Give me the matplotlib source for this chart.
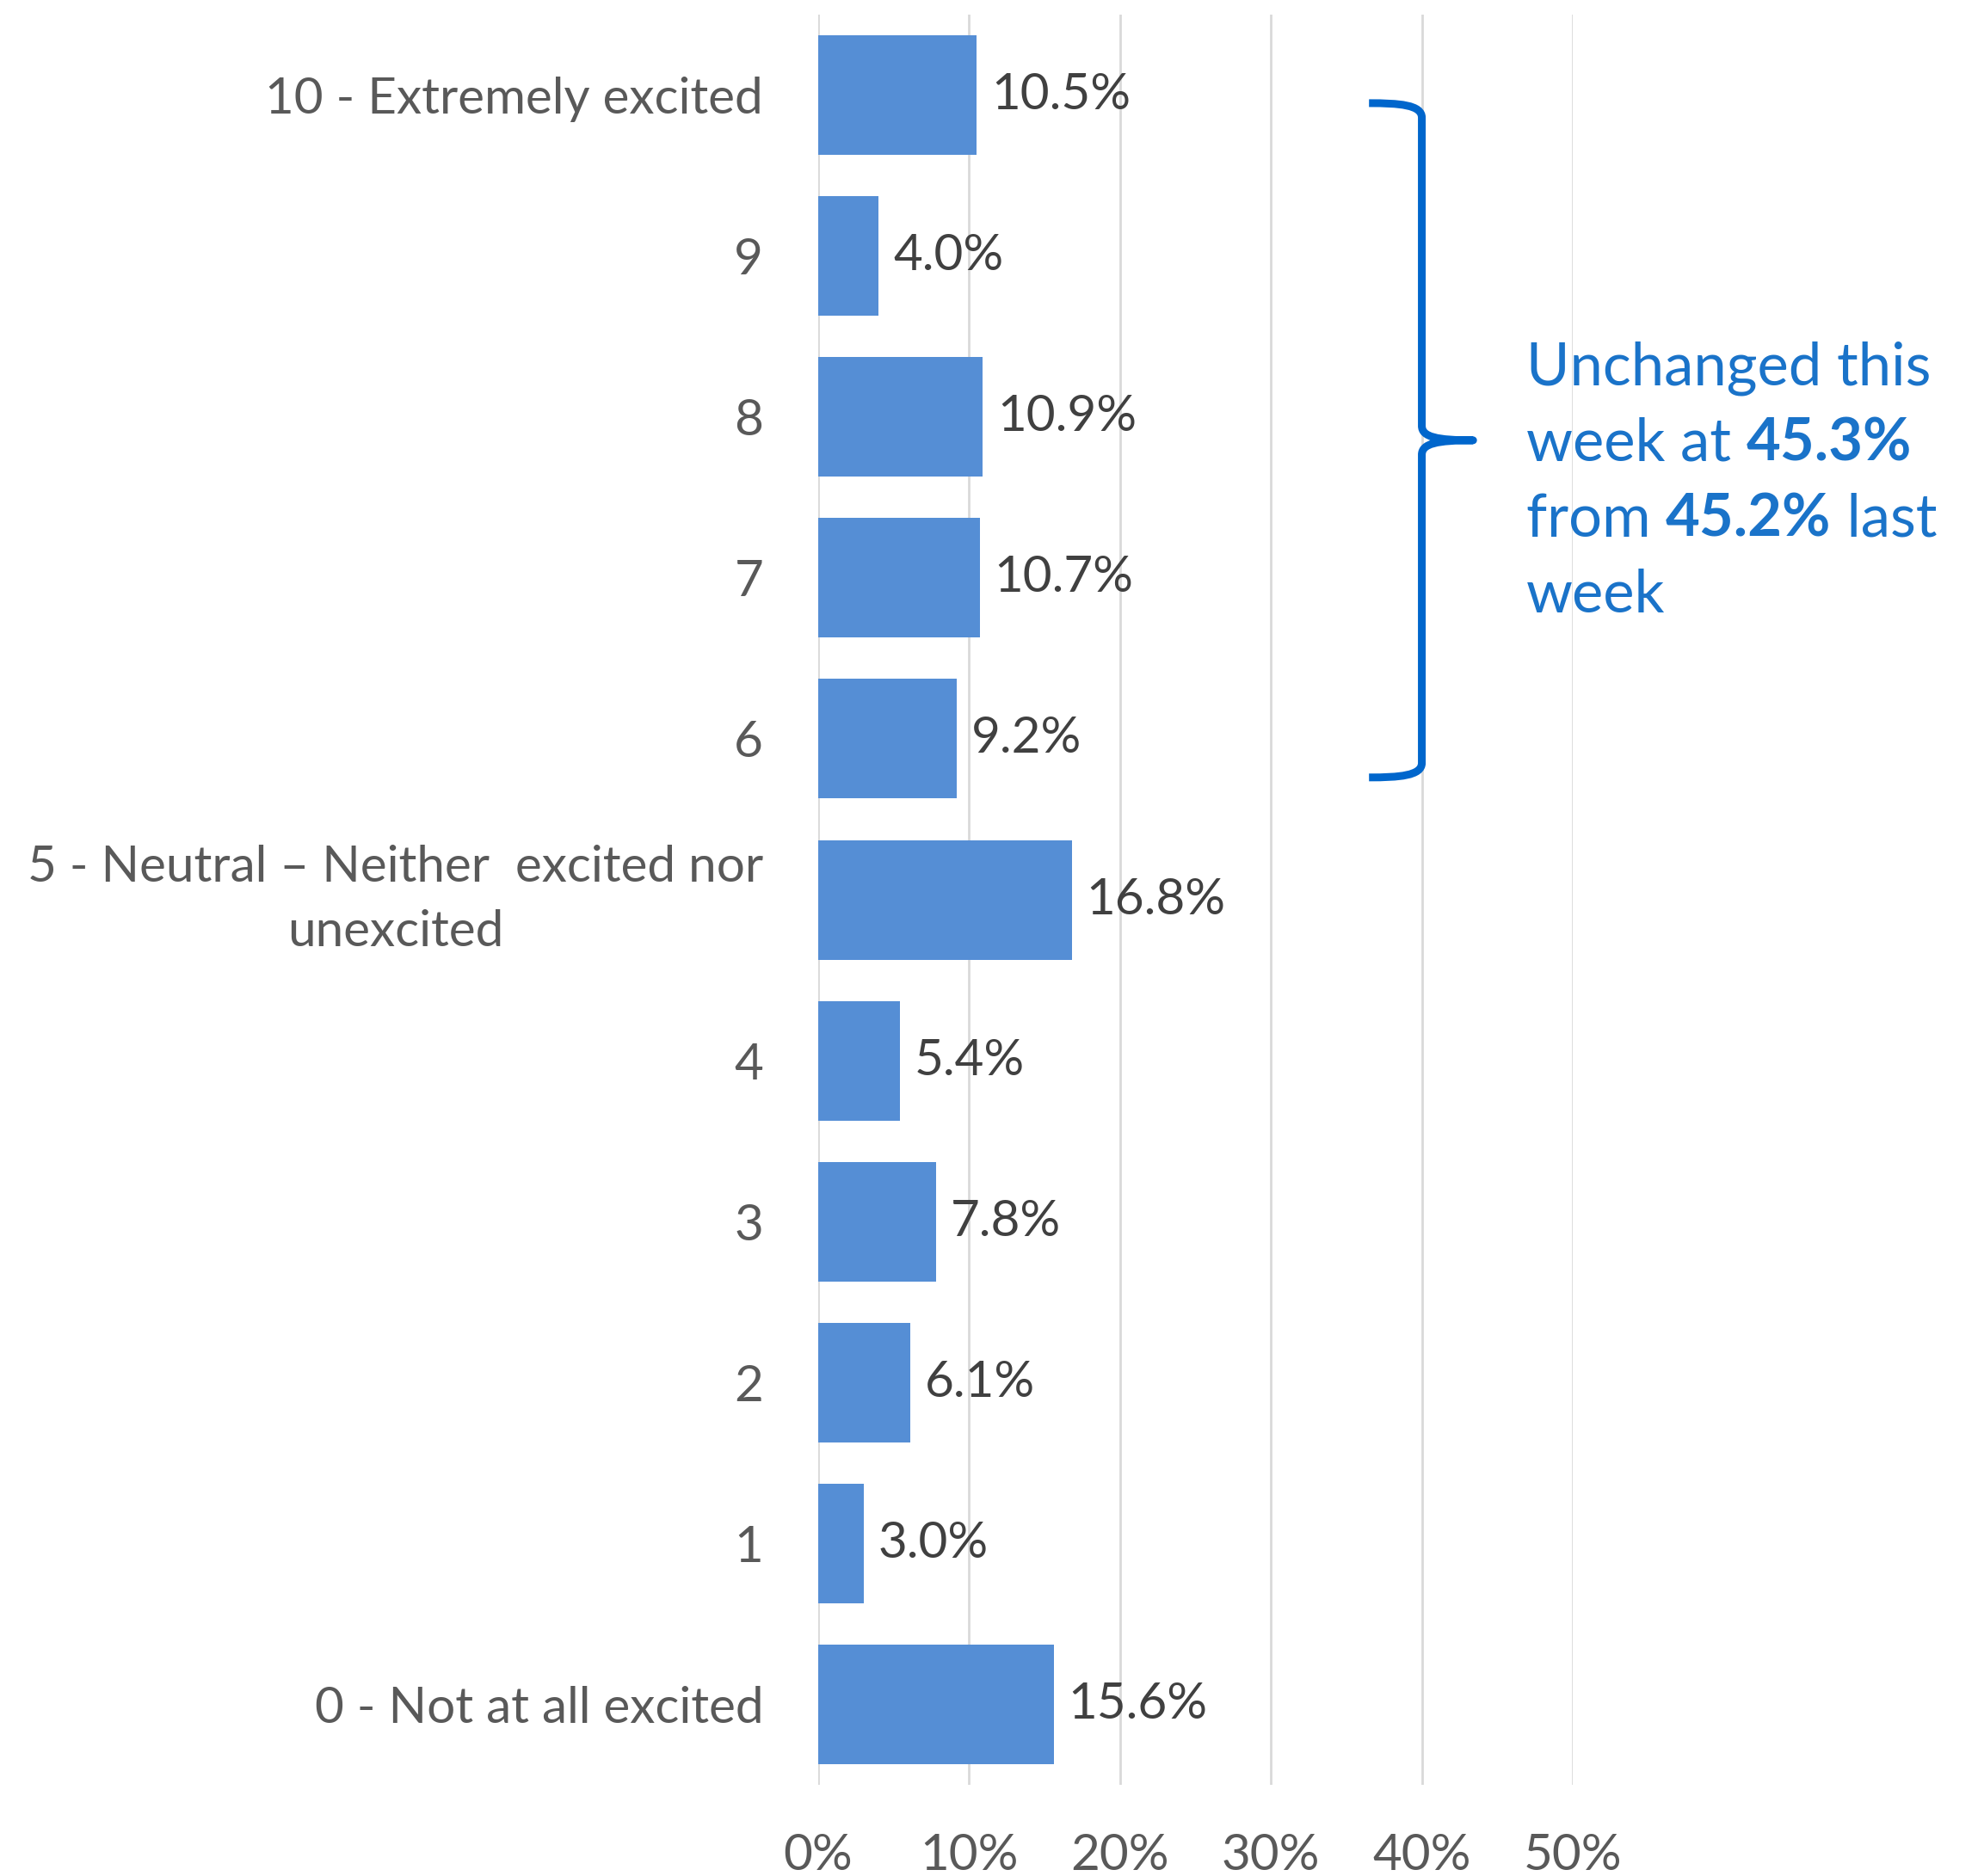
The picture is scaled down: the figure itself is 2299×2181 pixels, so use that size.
import numpy as np
import matplotlib
matplotlib.use("Agg")
import matplotlib.pyplot as plt
from matplotlib.path import Path
from matplotlib.patches import PathPatch

# excitement scale, bottom to top
categories = [
    "0 - Not at all excited", "1", "2", "3", "4",
    "5 - Neutral \u2013 Neither  excited nor\nunexcited",
    "6", "7", "8", "9", "10 - Extremely excited",
]
values = [15.6, 3.0, 6.1, 7.8, 5.4, 16.8, 9.2, 10.7, 10.9, 4.0, 10.5]
xticks = [0, 10, 20, 30, 40, 50]
top_box_total = 45.3
last_week_total = 45.2

plt.rcParams["font.family"] = ["Lato", "DejaVu Sans"]

BAR = "#558ed5"
GRID = "#d9d9d9"
LABEL = "#595959"
VALUE = "#404040"
BRACE = "#0066cc"
NOTE = "#1a73c9"

fig = plt.figure(figsize=(22.99, 21.81), dpi=100)
ax = fig.add_axes([0.4137, 0.0486, 0.3814, 0.9436])

y = np.arange(len(categories))
bars = ax.barh(y, values, height=0.743, color=BAR, zorder=2)
ax.bar_label(bars, labels=[f"{v:.1f}%" for v in values], padding=12,
             fontsize=42, color=VALUE)

ax.set_xlim(0, 50)
ax.set_ylim(-0.5, len(categories) - 0.5)
ax.set_xticks(xticks)
ax.set_xticklabels([f"{t}%" for t in xticks])
ax.set_yticks(y)
ax.set_yticklabels(categories, multialignment="center", linespacing=1.5)
# the wrapped neutral label sits centred on its bar
for lbl in ax.get_yticklabels():
    if "\n" in lbl.get_text():
        lbl.set_verticalalignment("center")
ax.tick_params(axis="both", length=0, labelsize=42, labelcolor=LABEL)
ax.tick_params(axis="y", pad=46)
ax.tick_params(axis="x", pad=40)
ax.grid(axis="x", color=GRID, linewidth=2, zorder=0)
for s in ax.spines.values():
    s.set_visible(False)

# curly brace around the 6-10 ratings
xl, xs, xt = 36.5, 40.0, 43.4
yt, ym, yb = 9.95, 7.855, 5.76
verts = [
    (xl, yt), (38.5, yt), (xs, yt - 0.01), (xs, yt - 0.09),
    (xs, ym + 0.09),
    (xs, ym + 0.02), (41.0, ym), (xt, ym),
    (41.0, ym), (xs, ym - 0.02), (xs, ym - 0.09),
    (xs, yb + 0.09),
    (xs, yb + 0.01), (38.5, yb), (xl, yb),
]
codes = [Path.MOVETO, Path.CURVE4, Path.CURVE4, Path.CURVE4,
         Path.LINETO,
         Path.CURVE4, Path.CURVE4, Path.CURVE4,
         Path.CURVE4, Path.CURVE4, Path.CURVE4,
         Path.LINETO,
         Path.CURVE4, Path.CURVE4, Path.CURVE4]
ax.add_patch(PathPatch(Path(verts, codes), facecolor="none", edgecolor=BRACE,
                       linewidth=6.5, capstyle="butt", joinstyle="round",
                       clip_on=False, zorder=3))

# note text, with bold figures inline
note_x = 0.7716
base = 1 - 448 / 2181
step = 88 / 2181
fs = 49.5


def run(prev, text, bold=False):
    return ax.annotate(text, xy=(1, 0), xycoords=prev, va="bottom", ha="left",
                       fontsize=fs, color=NOTE,
                       fontweight="bold" if bold else "normal")


fig.text(note_x, base, "Unchanged this", fontsize=fs, color=NOTE, va="baseline")
t = fig.text(note_x, base - step, "week at ", fontsize=fs, color=NOTE, va="baseline")
run(t, f"{top_box_total:.1f}%", bold=True)
t = fig.text(note_x, base - 2 * step, "from ", fontsize=fs, color=NOTE, va="baseline")
t = run(t, f"{last_week_total:.1f}%", bold=True)
run(t, " last")
fig.text(note_x, base - 3 * step, "week", fontsize=fs, color=NOTE, va="baseline")

fig.savefig("out.png", dpi=100, facecolor="white")
